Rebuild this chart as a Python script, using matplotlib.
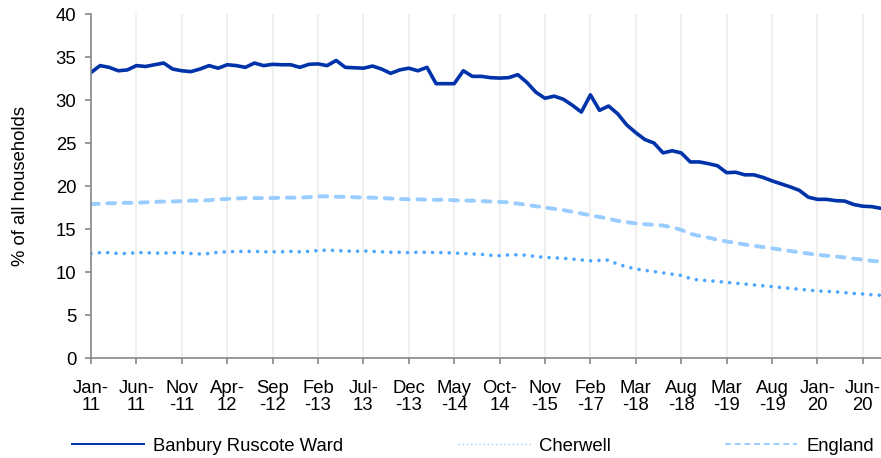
import numpy as np
import matplotlib
matplotlib.use("Agg")
import matplotlib.pyplot as plt
from matplotlib.lines import Line2D

plt.rcParams['font.family'] = ['Liberation Sans', 'DejaVu Sans']

# months on the category axis (monthly to Oct-14, then gaps)
months = (
    ["Jan-11", "Feb-11", "Mar-11", "Apr-11", "May-11", "Jun-11", "Jul-11", "Aug-11", "Sep-11", "Oct-11", "Nov-11", "Dec-11"]
    + ["Jan-12", "Feb-12", "Mar-12", "Apr-12", "May-12", "Jun-12", "Jul-12", "Aug-12", "Sep-12", "Oct-12", "Nov-12", "Dec-12"]
    + ["Jan-13", "Feb-13", "Mar-13", "Apr-13", "May-13", "Jun-13", "Jul-13", "Aug-13", "Sep-13", "Oct-13", "Nov-13", "Dec-13"]
    + ["Jan-14", "Feb-14", "Mar-14", "Apr-14", "May-14", "Jun-14", "Jul-14", "Aug-14", "Sep-14", "Oct-14"]
    + ["Jan-15", "Apr-15", "Jun-15", "Aug-15", "Nov-15"]
    + ["Feb-16", "May-16", "Aug-16", "Nov-16", "Feb-17"]
    + ["May-17", "Aug-17", "Nov-17", "Feb-18", "Mar-18"]
    + ["Apr-18", "May-18", "Jun-18", "Jul-18", "Aug-18"]
    + ["Sep-18", "Oct-18", "Nov-18", "Jan-19", "Mar-19"]
    + ["Apr-19", "May-19", "Jun-19", "Jul-19", "Aug-19", "Sep-19", "Oct-19", "Nov-19", "Dec-19", "Jan-20"]
    + ["Feb-20", "Mar-20", "Apr-20", "May-20", "Jun-20", "Jul-20", "Aug-20"]
)

# labels as shown (every 5th category, wrapped like the original)
tick_labels = ["Jan-\n11", "Jun-\n11", "Nov\n-11", "Apr-\n12", "Sep\n-12", "Feb\n-13",
               "Jul-\n13", "Dec\n-13", "May\n-14", "Oct-\n14", "Nov\n-15", "Feb\n-17",
               "Mar\n-18", "Aug\n-18", "Mar\n-19", "Aug\n-19", "Jan-\n20", "Jun-\n20"]

banbury = [33.2, 34.0, 33.8, 33.4, 33.5, 34.0, 33.9, 34.1, 34.3, 33.6,
           33.4, 33.3, 33.6, 34.0, 33.7, 34.1, 34.0, 33.8, 34.3, 34.0,
           34.15, 34.1, 34.1, 33.8, 34.15, 34.2, 34.0, 34.6, 33.8, 33.75,
           33.7, 33.95, 33.6, 33.1, 33.5, 33.7, 33.4, 33.8, 31.9, 31.9,
           31.9, 33.4, 32.75, 32.75, 32.6, 32.55, 32.6, 32.95, 32.05, 30.9,
           30.2, 30.45, 30.1, 29.4, 28.6, 30.6, 28.8, 29.3, 28.4, 27.1,
           26.2, 25.4, 25.0, 23.85, 24.1, 23.85, 22.8, 22.8, 22.6, 22.35,
           21.55, 21.6, 21.3, 21.3, 21.0, 20.6, 20.25, 19.9, 19.5, 18.7,
           18.45, 18.45, 18.3, 18.25, 17.85, 17.65, 17.6, 17.4]

cherwell = [12.15, 12.25, 12.25, 12.15, 12.15, 12.25, 12.25, 12.2, 12.2, 12.25,
            12.25, 12.15, 12.1, 12.15, 12.3, 12.35, 12.4, 12.4, 12.4, 12.35,
            12.35, 12.35, 12.4, 12.35, 12.4, 12.5, 12.55, 12.5, 12.45, 12.4,
            12.45, 12.4, 12.35, 12.3, 12.3, 12.25, 12.3, 12.3, 12.25, 12.25,
            12.2, 12.15, 12.1, 12.05, 11.95, 11.9, 12.0, 12.0, 11.95, 11.8,
            11.7, 11.65, 11.6, 11.5, 11.4, 11.3, 11.35, 11.4, 10.9, 10.6,
            10.35, 10.2, 10.05, 9.9, 9.75, 9.6, 9.25, 9.05, 9.0, 8.9,
            8.8, 8.7, 8.6, 8.5, 8.4, 8.3, 8.2, 8.1, 8.0, 7.9,
            7.8, 7.75, 7.7, 7.6, 7.5, 7.45, 7.35, 7.3]

england = [17.9, 17.95, 18.0, 18.0, 18.05, 18.05, 18.1, 18.15, 18.2, 18.2,
           18.25, 18.3, 18.3, 18.35, 18.45, 18.5, 18.55, 18.6, 18.6, 18.6,
           18.6, 18.65, 18.65, 18.65, 18.7, 18.8, 18.8, 18.75, 18.75, 18.7,
           18.65, 18.65, 18.6, 18.55, 18.5, 18.45, 18.45, 18.4, 18.4, 18.4,
           18.35, 18.3, 18.3, 18.25, 18.2, 18.15, 18.1, 17.95, 17.8, 17.65,
           17.5, 17.35, 17.2, 17.0, 16.8, 16.6, 16.4, 16.2, 15.95, 15.8,
           15.65, 15.55, 15.5, 15.4, 15.2, 14.9, 14.45, 14.2, 14.0, 13.75,
           13.55, 13.4, 13.2, 13.05, 12.9, 12.75, 12.6, 12.45, 12.3, 12.15,
           12.0, 11.9, 11.8, 11.7, 11.55, 11.45, 11.3, 11.2]

c_ban = '#0033AA'
c_che = '#4DA6FF'
c_eng = '#99CCFF'
fs = 13.3

x = np.arange(len(months))

fig = plt.figure(figsize=(8.81, 4.58), dpi=100)
ax = fig.add_axes([0.1033, 0.2183, 0.8967, 0.7511])

ax.plot(x, england, color=c_eng, lw=2.8, dashes=(2.0, 2.2), dash_capstyle='round')
ax.plot(x, cherwell, color=c_che, lw=2.6, dashes=(0.01, 2.3), dash_capstyle='round')
ax.plot(x, banbury, color=c_ban, lw=2.6, solid_joinstyle='round')

ax.set_xlim(0, len(months) - 1)
ax.set_ylim(0, 40)
ax.set_yticks(range(0, 41, 5))
ax.set_xticks(x[::5])
ax.set_xticklabels(tick_labels, linespacing=1.05)
ax.grid(axis='x', color='#EBEBEB', lw=1.1)
ax.set_axisbelow(True)

for s in ['top', 'right']:
    ax.spines[s].set_visible(False)
for s in ['left', 'bottom']:
    ax.spines[s].set_color('#888888')
    ax.spines[s].set_linewidth(1.2)
ax.tick_params(axis='both', colors='#888888', width=1.2, length=4.5, labelsize=fs, labelcolor='black')
ax.tick_params(axis='x', pad=11)
ax.tick_params(axis='y', pad=6)

ax.set_ylabel('% of all households', fontsize=fs, labelpad=19)

handles = [Line2D([], [], color=c_ban, lw=1.4),
           Line2D([], [], color=c_che, lw=1.0, dashes=(1, 2), alpha=0.6),
           Line2D([], [], color=c_eng, lw=1.4, dashes=(3, 2))]
fig.legend(handles, ['Banbury Ruscote Ward', 'Cherwell', 'England'],
           loc='center', bbox_to_anchor=(0.537, 0.026), ncol=3, frameon=False,
           fontsize=fs, handlelength=3.9, handletextpad=0.5, columnspacing=6.2,
           borderpad=0, borderaxespad=0)

fig.savefig('out.png', dpi=100)
